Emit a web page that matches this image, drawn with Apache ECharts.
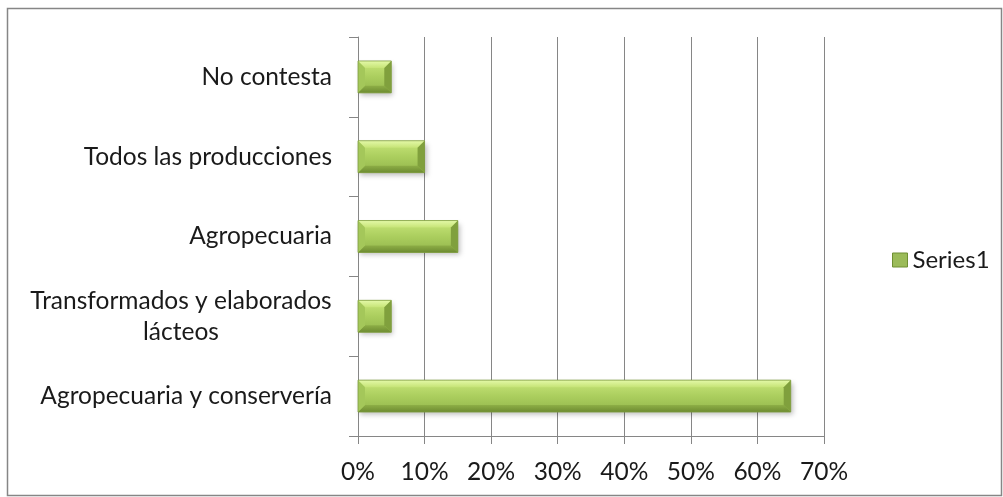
<!DOCTYPE html>
<html>
<head>
<meta charset="utf-8">
<script src="https://cdn.jsdelivr.net/npm/echarts@6/dist/echarts.min.js"></script>
<style>
  html, body { margin: 0; padding: 0; background: #ffffff; }
  #chart { width: 1003px; height: 497px; }
</style>
</head>
<body>
<div id="chart"></div>
<script>
// Categories listed bottom to top, as the value axis draws them
const categories = [
  'Agropecuaria y conservería',
  'Transformados y elaborados\nlácteos',
  'Agropecuaria',
  'Todos las producciones',
  'No contesta'
];
const values = [65, 5, 15, 10, 5];
const seriesName = 'Series1';
const xTicks = [0, 10, 20, 30, 40, 50, 60, 70];

const FONT = 'Lato, "Liberation Sans", sans-serif';
const FONT_SIZE = 24.5;
const GREY = '#868686';

// Widest line among wrapped labels, so their lines can be centred under each other
const measureCtx = document.createElement('canvas').getContext('2d');
measureCtx.font = FONT_SIZE + 'px ' + FONT;
const wrapWidth = Math.ceil(Math.max(0, ...categories
  .filter(c => c.includes('\n'))
  .flatMap(c => c.split('\n'))
  .map(l => measureCtx.measureText(l).width)));

// Beveled bar: face gradient with light top rim, dark bottom rim and shaded ends
function renderBar(params, api) {
  const cat = api.value(0);
  const val = api.value(1);
  const start = api.coord([0, cat]);
  const end = api.coord([val, cat]);
  const h = api.size([0, 1])[1] * 0.4;
  const x0 = start[0], x1 = end[0];
  const y0 = start[1] - h / 2, y1 = start[1] + h / 2;
  const b = Math.min(7, (x1 - x0) / 2);
  const poly = (pts, fill) => ({ type: 'polygon', shape: { points: pts }, style: { fill: fill }, silent: true });
  return {
    type: 'group',
    children: [
      {
        type: 'rect',
        shape: { x: x0, y: y0, width: x1 - x0, height: h },
        style: {
          fill: new echarts.graphic.LinearGradient(0, 0, 0, 1, [
            { offset: 0, color: '#c8e67a' },
            { offset: 0.5, color: '#abce5e' },
            { offset: 1, color: '#93b64c' }
          ]),
          shadowBlur: 5, shadowOffsetX: 2, shadowOffsetY: 3, shadowColor: 'rgba(0,0,0,0.25)'
        }
      },
      poly([[x0, y0], [x1, y0], [x1 - b, y0 + b], [x0 + b, y0 + b]], new echarts.graphic.LinearGradient(0, 0, 0, 1, [
        { offset: 0, color: '#e4f9a8' }, { offset: 1, color: '#c6e477' }
      ])),
      poly([[x0, y1], [x1, y1], [x1 - b, y1 - b], [x0 + b, y1 - b]], new echarts.graphic.LinearGradient(0, 0, 0, 1, [
        { offset: 0, color: '#8dae46' }, { offset: 1, color: '#6d8b31' }
      ])),
      poly([[x0, y0], [x0 + b, y0 + b], [x0 + b, y1 - b], [x0, y1]], '#a4c75a'),
      poly([[x1, y0], [x1 - b, y0 + b], [x1 - b, y1 - b], [x1, y1]], '#80a03d'),
      {
        type: 'rect',
        shape: { x: x0, y: y0, width: x1 - x0, height: h },
        style: { fill: 'none', stroke: '#7f9c40', lineWidth: 0.8 },
        silent: true
      }
    ]
  };
}

const chart = echarts.init(document.getElementById('chart'), null, { renderer: 'canvas' });
chart.setOption({
  backgroundColor: '#ffffff',
  animation: false,
  graphic: [{
    type: 'rect',
    shape: { x: 7.5, y: 8.5, width: 994, height: 487 },
    style: { fill: 'none', stroke: GREY, lineWidth: 1.5 },
    silent: true
  }],
  grid: { left: 358, right: 179, top: 37, bottom: 61, containLabel: false },
  legend: {
    data: [{ name: seriesName, icon: 'rect', itemStyle: { color: '#9bbb59', borderColor: '#6f8f33', borderWidth: 1 } }],
    orient: 'vertical',
    left: 887,
    top: 243,
    itemWidth: 15,
    itemHeight: 14,
    itemGap: 6,
    textStyle: { fontFamily: FONT, fontSize: 24, color: '#1a1a1a' }
  },
  xAxis: {
    type: 'value',
    min: 0,
    max: 70,
    interval: 10,
    axisLine: { show: true, lineStyle: { color: GREY, width: 1 } },
    axisTick: { show: true, length: 8, lineStyle: { color: GREY } },
    splitLine: { show: true, lineStyle: { color: GREY, width: 1 } },
    axisLabel: {
      margin: 24,
      fontFamily: FONT, fontSize: FONT_SIZE, color: '#1a1a1a',
      formatter: v => xTicks.includes(v) ? v + '%' : ''
    }
  },
  yAxis: {
    type: 'category',
    data: categories,
    axisLine: { show: true, lineStyle: { color: GREY, width: 1 } },
    axisTick: { show: true, length: 9, lineStyle: { color: GREY } },
    axisLabel: {
      margin: 26,
      fontFamily: FONT, fontSize: FONT_SIZE, color: '#1a1a1a',
      lineHeight: 31, align: 'right',
      formatter: function (text) {
        const lines = text.split('\n');
        if (lines.length === 1) return text;
        return lines.map(l => '{c|' + l + '}').join('\n');
      },
      rich: {
        c: {
          fontFamily: FONT, fontSize: FONT_SIZE, color: '#1a1a1a', lineHeight: 31,
          align: 'center', width: wrapWidth
        }
      }
    }
  },
  series: [{
    name: seriesName,
    type: 'custom',
    renderItem: renderBar,
    encode: { x: 1, y: 0 },
    itemStyle: { color: '#9bbb59' },
    data: values.map((v, i) => [i, v])
  }]
});
</script>
</body>
</html>
